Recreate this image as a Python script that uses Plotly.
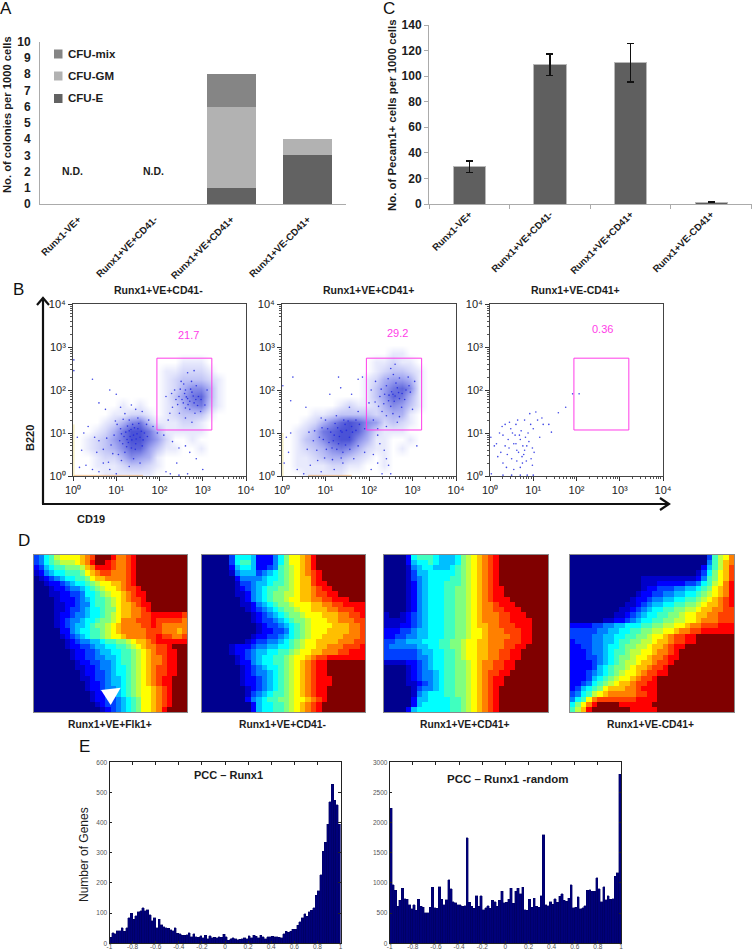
import plotly.graph_objects as go

W, H = 752, 952
FONT = "Liberation Sans"

# ---------- panel A / C ----------
CATEGORIES = ["Runx1-VE+", "Runx1+VE+CD41-", "Runx1+VE+CD41+", "Runx1+VE-CD41+"]
CFU_E = [0, 0, 1, 3]
CFU_GM = [0, 0, 5, 1]
CFU_MIX = [0, 0, 2, 0]
LEGEND_NAMES = ["CFU-mix", "CFU-GM", "CFU-E"]
PECAM = [29, 109, 110.5, 1.5]
PECAM_ERR = [4.5, 8.5, 15, 0]

# ---------- panel B : density (0-9), top row = high B220, 0.2 decade cells ----------
DENS_1 = [
"00000000000000000000","00000000000000000000","00000000000000000000",
"00000000000000000000","00000000000000000000","00000000000000000000",
"00000000000001110000","00000000000112221000","00000000000123332100","00000000000124664100",
"00000000000135784100","00000010100124673100","00000112210123331000","00001246731112210000",
"00012479974111110000","00123579975200100000","00123468853110010000","00012246541000000000",
"00011123321000000000","00001111110000000000"]
DENS_2 = [
"00000000000000000000","00000000000000000000","00000000000000000000",
"00000000000000000000","00000000000000000000",
"00000000000001100000","00000000000112110000","00000000000123321000","00000000001245541000",
"00000000001357861000","00000000001358741000","00000001211246531000","00001123333234410000",
"00012468986523210000","00124789985211100000","00134689964110010000","00123467642110100000",
"00112344321010000000","00111122110010000000","00011111000000000000"]
DOTS_1 = [(0.45,2.25),(0.02,2.7),(0.02,2.45),(0.85,2.0),(1.0,1.9),(0.6,1.7),(0.75,1.55),(1.1,1.6),(1.2,1.45),
(1.35,1.65),(1.45,1.55),(1.6,1.5),(1.75,1.3),(1.85,1.15),(1.95,1.0),(2.1,0.95),(2.3,0.8),(2.45,0.65),(2.6,0.7),
(2.7,0.55),(2.85,0.4),(2.4,0.3),(2.15,0.1),(2.25,0.05),(2.45,0.02),(2.65,0.05),(3.0,0.15),(0.2,0.6),(0.1,0.9),
(0.25,1.0),(0.35,1.15),(0.5,0.9),(0.55,0.55),(0.3,0.25),(0.15,0.2),(0.45,0.15),(0.6,0.1),(0.7,0.3),(0.85,0.15),
(1.0,0.05),(1.3,1.05),(1.4,0.95),(1.25,0.85),(1.5,1.1),(1.15,0.75),(1.55,0.9),(1.35,0.65),(1.1,1.1),(1.65,1.0),
(1.45,0.75),(1.2,0.55),(1.6,0.7),(0.95,0.95),(1.05,0.5),(1.3,1.3),(1.5,1.35),(1.7,1.2),(1.4,0.4),(1.55,0.3),
(2.65,1.8),(2.75,1.95),(2.55,1.7),(2.8,1.7),(2.6,2.0),(2.9,1.85),(2.45,1.85),(2.7,1.55),(2.85,2.1),(2.3,1.6),
(2.5,2.2),(2.95,1.5),(2.35,2.0),(2.6,1.35),(2.2,1.3),(2.75,1.25),(2.15,1.85),(3.05,1.65),(3.1,2.0),(2.65,2.4),(2.8,2.45),
(1.22,1.02),(1.32,0.92),(1.42,1.12),(1.28,0.78),(1.38,1.2),(1.48,0.98),(1.18,0.92),(1.52,1.22),(1.12,0.98),(1.36,0.84),
(1.26,1.16),(1.46,0.86),(1.08,0.82),(1.58,1.04),(1.34,1.08),(1.24,0.68),(1.44,0.62),(1.02,1.2),(0.88,0.72),(0.78,0.88),
(0.92,0.52),(0.98,1.28),(1.16,1.32),(1.62,0.84),(1.72,0.92),(0.7,0.62),(0.6,0.82),(1.12,0.36),(1.3,0.22),(0.82,0.32),
(2.62,1.84),(2.7,1.74),(2.58,1.92),(2.78,1.86),(2.66,1.66),(2.52,1.78),(2.84,1.78),(2.72,2.02),(2.6,1.58),(2.42,1.66),
(2.88,1.64),(2.48,2.02),(2.38,1.78),(2.96,1.78),(2.56,2.14),(2.74,2.2),(2.46,1.46),(2.82,1.46),(2.28,1.92),(2.24,1.46)]
DOTS_2 = [(0.25,2.3),(0.02,2.1),(0.2,1.75),(0.55,1.6),(0.9,1.35),(1.1,1.9),(1.3,2.3),(1.35,2.05),(1.6,1.9),(1.75,2.25),
(1.85,2.3),(2.0,1.7),(1.75,1.5),(1.55,1.6),(1.9,1.1),(2.2,0.95),(2.25,0.75),(2.35,0.6),(2.4,0.4),(2.2,0.3),
(2.45,0.25),(2.5,0.05),(3.1,0.7),(2.1,0.5),(2.05,0.15),(2.3,0.05),(0.1,0.9),(0.15,0.55),(0.2,1.0),(0.05,0.3),
(0.35,0.15),(0.5,0.05),(0.65,0.25),(0.9,0.1),(1.2,0.15),(1.4,0.3),(1.65,0.4),(1.75,0.7),(1.9,0.55),(1.35,1.05),
(1.2,0.95),(1.45,1.2),(1.55,0.9),(1.05,1.1),(1.3,0.75),(1.15,0.65),(1.6,1.15),(0.95,0.85),(1.7,1.3),(1.4,0.55),
(0.8,0.6),(0.75,1.05),(1.0,1.3),(1.25,1.4),(2.55,1.9),(2.65,2.05),(2.45,1.75),(2.7,1.8),(2.85,2.0),(2.4,2.1),
(2.3,1.5),(2.55,1.45),(2.75,1.6),(2.95,1.95),(2.25,1.85),(2.15,2.2),(2.1,1.3),(2.5,2.5),(2.6,2.6),(3.0,1.55),
(2.4,1.15),(2.2,1.1),(3.05,2.2),(2.65,1.25),(2.05,2.0),(2.9,2.3),
(1.28,1.12),(1.38,1.02),(1.22,1.22),(1.48,1.06),(1.18,0.82),(1.32,0.92),(1.42,1.3),(1.12,1.02),(1.52,1.28),(1.26,0.62),
(1.08,0.78),(1.62,1.02),(1.46,0.72),(1.02,0.62),(0.92,1.12),(0.86,0.9),(0.72,0.82),(0.62,1.02),(1.36,0.42),(1.16,0.38),
(0.98,0.42),(0.82,0.36),(0.58,0.62),(1.56,0.62),(1.7,1.06),(1.78,1.2),
(2.52,1.96),(2.6,1.86),(2.46,1.88),(2.68,1.94),(2.58,1.74),(2.36,1.9),(2.76,1.92),(2.62,2.16),(2.5,1.62),(2.34,1.68),
(2.82,1.78),(2.44,2.26),(2.28,2.02),(2.92,2.1),(2.7,2.28),(2.4,1.4),(2.22,1.62),(2.14,1.72),(2.56,2.36),(2.7,1.38)]
DOTS_3 = [(1.91,1.91),(2.06,1.91),(1.75,1.6),(1.58,1.47),(1.42,1.02),(1.36,1.2),(1.23,1.2),(1.06,1.49),(0.92,1.45),
(0.80,1.3),(0.45,1.25),(0.48,1.1),(0.30,0.95),(0.35,0.7),(0.40,0.5),(0.55,0.75),(0.60,1.2),(0.62,0.6),(0.70,0.85),
(0.75,0.3),(0.78,0.5),(0.85,0.7),(0.88,1.0),(0.95,0.4),(0.98,0.25),(1.00,1.1),(1.02,0.55),(0.15,0.75),(0.18,0.45),
(0.22,1.0),(0.25,0.55),(0.30,0.3),(0.35,1.2),(0.38,0.2),(0.42,0.85),(0.50,0.4),(0.55,0.15),(0.58,0.95),(0.62,0.35),
(0.66,0.55),(0.70,0.2),(0.72,1.05),(0.76,0.7),(0.80,0.6),(0.84,0.35),(0.90,0.8),(0.94,1.2),(0.44,0.65),(0.52,1.0),
(0.60,0.75),(0.68,0.95),(0.74,0.45),(0.82,0.9),(0.02,0.9),(0.03,0.05),(0.10,0.7),(0.28,1.15),(0.50,0.02),(0.70,0.02),
(0.86,0.02),(1.00,0.02),(0.30,0.02),(1.20,1.35),(1.10,1.3),(1.15,0.9),(0.98,0.65),(0.64,1.3)]
EDGE_BOTTOM = [[0.02, 1.62], [0.6, 1.6], [0.0, 0.0]]
EDGE_LEFT_TOP = [1.2, 1.0, 0.0]
GATE_X = [1.94, 3.21]
GATE_Y = [1.07, 2.74]
LOG_TICKS = [0, 1, 2, 3, 4]
LOG_LABELS = ["10\u2070", "10\u00b9", "10\u00b2", "10\u00b3", "10\u2074"]
LOG_MINOR = [0.30,0.48,0.60,0.70,0.78,0.85,0.90,0.95,1.30,1.48,1.60,1.70,1.78,1.85,1.90,1.95,
             2.30,2.48,2.60,2.70,2.78,2.85,2.90,2.95,3.30,3.48,3.60,3.70,3.78,3.85,3.90,3.95]
PCT = ["21.7", "29.2", "0.36"]
PCT_X = [2.67, 2.65, 2.6]
PCT_Y = [3.29, 3.33, 3.42]
FLOW_TITLES = ["Runx1+VE+CD41-", "Runx1+VE+CD41+", "Runx1+VE-CD41+"]

# ---------- panel D : colour level per cell, 0=dark blue ... F=dark red (short rows continue in F) ----------
HEAT_1 = ["34679AAAABCDFFFECCDE","34678999ABCEFFEDCCDE","2356778889BCEEEDCCDE","1245667778ABCDDCCCDE",
"01234566778ABBCCCCDE","0012234566789AABBCDE","00012234456789AABCDDE","000112233466789AABCDEE",
"0000122234567789ABCDDE","0000112234467789ABBCDEE","0000112334566788ABBCCDE",
"0000122344566789ABBCCDDEEEEEED","0000123445667889ACCCDDDEDDDDDC","000012345567889ABCCCCDDEDCCCCC",
"000002245667789ABCCCCCDDDCCCBC","000001234567789AABCCCCDDEDDCCD","0000001234455677889ABBCDEEEEEE",
"00000012233455667789ABCCDDEF","000000012233455667789ABCDDEEFF","000000012233445567789ABCCDEEFF",
"000000001223344567789ABCCDEEFF","000000001122344566789ABCDDEEFF","000000000122334566789ABCDDEEFF",
"000000000112334556789ABCDEEF","000000000012234556789ABCDEEF","000000000012234456789AABCDEF",
"000000000001223456789AABCDEF","000000000001223345678AABCDEF","000000000000123345678AABCDEF",
"000000000000012345678AABCEF"]
HEAT_2 = ["0000036665222468AABCE","0000036775222468AABCE","00000256652234789ABCE","00000145553456789ABCDE",
"00000024444566789ABBDE","00000013345567789ABBDEE","00000012345677889ABBCDEE","00000011245678899ABBCDDEE",
"0000000124567889AABBCCDDEEE","00000001124567889AAABBCCDDEEEE","000000001234567889AABBBCCDDDEE",
"0000000001234567889AAABBBCCDDE","00000000012334567889AAABBCCCDD","00000000001233456789AAAABBBCCD",
"00000000001223346789AAABBBBCCD","00000000012233456789AABBBBCCCD","0000000012334456789AABBBBCCCDD",
"0000012223445566789AABBCCCDDDE","000001223455667789AABBCCCDDEEE","00000012345667789AABCDDEEEEEEE",
"00000012245667789ABCDEE","00000001234566789ABCDEE","00000001234456789ABCDEE","00000001223456789ABCDEEE",
"00000001223456789ABCDEEE","00000000123456789ABCDEE","00000000134567789ABCDEE","00000000245677889AABCDE",
"00000000025667789ABCDE","00000000025667789ABCDE"]
HEAT_3 = ["0000267776555689ABCDE","0000256676555689ABCDE","0000145665556789ABCDE","0000135566666789ABCDE",
"0000134566667789ABCDE","0000124566677789ABCDE","0000124566677889ABCDEE","0000124566677889ABCDEE",
"0000124566677889ABCDEEE","0000124566677889ABCCDEEE","0000124566677889ABCCDDEEE","1001234566677889ABCCCDDEEE",
"1111234566677889ABCCCDDEEEE","1112234566677889ABBCCDDDEEE","2223345566677889AABCCCDDDEE","2233445566677889AABCCCCDDEE",
"334455566677889AABBCCCDDDEE","344444556677889AABBCCCDDEE","333333455667789AABBCCDDEE","333333445667789AABBCCDDEE",
"1111223456677889ABCCDDEE","0000123456677889ABCCDDEE","0000123445677889ABCDDEE","0000123445677889ABCDEE",
"0000112345677889ABCDEE","0000013445677889ABCDE","0000014566677889ABCDE","0000025566667789ABCDE",
"0000025666667789ABCDE","0000256666667789ABCDE"]
HEAT_4 = ["0000000000000000000000000379AC","0000000000000000000000000479BC","0000000000000000000000002579BD",
"000000000000000000000001368ABD","000000000000011111111112478ABD",
"000000000000011122222334679ACE","00000000000001223334455678ABCE","00000000000012233445566789ABCE",
"0000000000012234455667789ABCDE","000000000011234556677889ABBCDE","00000000011234566778899ABBCCDD",
"000000001123456677889AABBCCDDD","000000112234566778899AABCCCDDD","2222334455666778899AABCCDDDEEE",
"33333445566778899AABCCDDEEEEEE","333344556677889AABCDDEEF","233344556778899ABBCDDEE","223344566788 99ABBCDEE".replace(" ",""),
"2223445677899AABCCDE","222334567889AABCCDEE","222234567899ABBCDDE","22223567889ABBCDDE","2223456789AABCDDEE",
"222356789AABCDDE","22346789ABBCDDEE","235678ABBBCCDEEE","34679ABCCCCCDDEE","467ACDDDDDDDEEEE","68ACEFFFFEEEEEE","79BEFFFFFFFEEEEE"]
HEAT_LABELS = ["Runx1+VE+Flk1+", "Runx1+VE+CD41-", "Runx1+VE+CD41+", "Runx1+VE-CD41+"]

# ---------- panel E : histogram counts, 100 bins between -1 and 1 ----------
HIST_1 = [20,35,32,42,42,52,40,52,85,100, 80,92,105,108,118,108,112,95,75,85, 52,80,62,55,52,50,45,42,52,33,
          32,27,27,28,35,22,32,22,20,25, 18,26,15,25,18,20,18,22,20,30, 22,10,15,18,15,12,13,15,18,15,
          25,18,26,24,18,26,22,15,22,22, 24,22,22,20,18,32,40,36,40,47, 46,60,72,85,98,90,105,110,118,160,
          175,228,305,335,395,470,527,475,460,395]
HIST_2 = [2240,970,880,610,710,915,740,730,640,570, 640,550,730,610,600,510,510,600,925,590,
          580,940,730,640,725,1050,900,690,670,640, 640,610,620,1750,680,610,580,790,610,790,
          560,590,620,580,710,690,610,710,860,670, 680,730,910,660,860,910,820,930,560,550,
          730,600,750,610,600,790,1800,640,620,690, 650,740,680,780,820,710,700,750,970,590,
          600,770,575,590,620,880,890,860,860,1090, 900,690,940,720,790,730,740,1110,1170,2800]
BIN_CENTRES = [round(-0.99 + 0.02 * i, 2) for i in range(100)]
HIST_XT = [-1, -0.8, -0.6, -0.4, -0.2, 0, 0.2, 0.4, 0.6, 0.8, 1]
HIST_XL = ["-1", "-0.8", "-0.6", "-0.4", "-0.2", "0", "0.2", "0.4", "0.6", "0.8", "1"]

JET = ["#00008f","#0000c8","#0000ff","#0040ff","#0080ff","#00bfff","#00ffff","#40ffbf",
       "#80ff80","#bfff40","#ffff00","#ffbf00","#ff8000","#ff4000","#ff0000","#800000"]
JET_SCALE = [[i / 15, c] for i, c in enumerate(JET)]
INK = "#1c1c1c"
GREY_AXIS = "#ababab"
MAGENTA = "#ff3ce8"


def dx(a, b):
    return [a / W, b / W]


def dy(a, b):
    return [1 - b / H, 1 - a / H]


def decode(rows):
    return [[int(c, 16) for c in r.ljust(30, "F")[:30]] for r in rows]


fig = go.Figure()
anns, shapes = [], []


def px_text(x, y, text, size=11, color=INK, angle=0, anchor="center"):
    anns.append(dict(x=x / W, y=1 - y / H, xref="paper", yref="paper", text=text, showarrow=False,
                     xanchor=anchor, yanchor="middle", textangle=angle,
                     font=dict(family=FONT, size=size, color=color)))


def px_path(points, **kw):
    p = "M" + "L".join(f"{x / W:.5f},{1 - y / H:.5f}" for x, y in points)
    shapes.append(dict(type="path", xref="paper", yref="paper", path=p, **kw))


# ---- A
for name, vals, col in [("CFU-E", CFU_E, "#626262"), ("CFU-GM", CFU_GM, "#b2b2b2"), ("CFU-mix", CFU_MIX, "#858585")]:
    fig.add_bar(x=CATEGORIES, y=vals, name=name, width=0.645, marker=dict(color=col, line=dict(width=0)),
                xaxis="x", yaxis="y", showlegend=False)
for name, col, y in zip(LEGEND_NAMES, ["#858585", "#b2b2b2", "#626262"], [54, 76, 98.5]):
    shapes.append(dict(type="rect", xref="paper", yref="paper", x0=54 / W, x1=62.5 / W, y0=1 - (y + 4.5) / H, y1=1 - (y - 4.5) / H,
                       fillcolor=col, line=dict(width=0)))
    px_text(66, y, f"<b>{name}</b>", 11.5, anchor="left")
# ---- C
fig.add_bar(x=CATEGORIES, y=PECAM, width=0.40, marker=dict(color="#5f5f5f", line=dict(color="#b8b8b8", width=1)),
            error_y=dict(type="data", array=PECAM_ERR, color="#111111", thickness=1.5, width=3.5),
            xaxis="x2", yaxis="y2", showlegend=False)

cat_axis = dict(type="category", range=[-0.5, 3.5], categoryorder="array", categoryarray=CATEGORIES, tickangle=-45,
                showgrid=False, zeroline=False, showline=True, linecolor=GREY_AXIS, linewidth=1,
                tickprefix="<b>", ticksuffix="</b>",
                tickfont=dict(family=FONT, size=9.7, color=INK))
val_font = dict(family=FONT, size=12, color=INK)
lay = dict(
    xaxis=dict(domain=dx(40, 346), anchor="y", ticks="outside", ticklen=5, tickcolor="rgba(0,0,0,0)", **cat_axis),
    yaxis=dict(domain=dy(41.7, 204), anchor="x", range=[0, 10], dtick=1, ticks="outside", ticklen=6, tickcolor="rgba(0,0,0,0)",
               showgrid=False, zeroline=False, showline=True, linecolor=GREY_AXIS, tickfont=val_font,
               tickprefix="<b>", ticksuffix="</b>"),
    xaxis2=dict(domain=dx(429, 751.5), anchor="y2", ticks="outside", ticklen=4, tickcolor=GREY_AXIS, tickson="boundaries", **cat_axis),
    yaxis2=dict(domain=dy(25, 204), anchor="x2", range=[0, 140], dtick=20, ticks="outside", ticklen=4, tickcolor=GREY_AXIS,
                showgrid=False, zeroline=False, showline=True, linecolor=GREY_AXIS, tickfont=val_font,
                tickprefix="<b>", ticksuffix="</b>"),
)
px_text(7, 115, "<b>No. of colonies per 1000 cells</b>", 11.2, angle=-90)
px_text(392, 115, "<b>No. of Pecam1+ cells per 1000 cells</b>", 11.4, angle=-90)
px_text(72, 171, "<b>N.D.</b>", 10.5)
px_text(153, 171, "<b>N.D.</b>", 10.5)

# ---- B
FLOW_X = [(73, 246), (282, 456), (490, 663)]
for i, ((x0, x1), title, pct) in enumerate(zip(FLOW_X, FLOW_TITLES, PCT)):
    n = 3 + i
    xa, ya = f"xaxis{n}", f"yaxis{n}"
    dots = [DOTS_1, DOTS_2, DOTS_3][i]
    if i < 2:
        rows = [DENS_1, DENS_2][i]
        fig.add_heatmap(z=[[int(c) for c in r] for r in rows[::-1]],
                        x=[-0.05 + 0.2 * k for k in range(20)], y=[0.05 + 0.2 * k for k in range(20)],
                        zmin=0, zmax=9, zsmooth="best", showscale=False, hoverinfo="skip",
                        colorscale=[[0, "#ffffff"], [0.12, "#e6e8fc"], [0.5, "#a4a9f2"], [1, "#4a52d6"]],
                        xaxis=f"x{n}", yaxis=f"y{n}")
        fig.add_scatter(x=EDGE_BOTTOM[i], y=[0.015, 0.015], mode="lines", line=dict(color="#f0a050", width=1),
                        opacity=0.6, showlegend=False, hoverinfo="skip", xaxis=f"x{n}", yaxis=f"y{n}")
        fig.add_scatter(x=[0.02, 0.02], y=[0, EDGE_LEFT_TOP[i]], mode="lines", line=dict(color="#e8d870", width=1),
                        opacity=0.6, showlegend=False, hoverinfo="skip", xaxis=f"x{n}", yaxis=f"y{n}")
    fig.add_scatter(x=[p[0] for p in dots], y=[p[1] for p in dots], mode="markers",
                    marker=dict(size=1.6, color="#1f28e0", opacity=0.85), showlegend=False,
                    xaxis=f"x{n}", yaxis=f"y{n}")
    for axis_name, dom, anch in [(xa, dx(x0, x1), f"y{n}"), (ya, dy(304, 476), f"x{n}")]:
        lay[axis_name] = dict(domain=dom, anchor=anch, range=[0, 4], tickmode="array", tickvals=LOG_TICKS, ticktext=LOG_LABELS,
                              ticks="outside", ticklen=4, tickcolor="#333", showgrid=False, zeroline=False,
                              showline=True, mirror=True, linecolor="#444", linewidth=1,
                              minor=dict(tickmode="array", tickvals=LOG_MINOR, ticks="outside", ticklen=2, tickcolor="#555"),
                              tickfont=dict(family=FONT, size=11, color="#222"))
    shapes.append(dict(type="rect", xref=f"x{n}", yref=f"y{n}", x0=GATE_X[0], x1=GATE_X[1], y0=GATE_Y[0], y1=GATE_Y[1],
                       line=dict(color=MAGENTA, width=1), layer="above"))
    anns.append(dict(x=PCT_X[i], y=PCT_Y[i], xref=f"x{n}", yref=f"y{n}", text=pct, showarrow=False,
                     font=dict(family=FONT, size=11, color=MAGENTA)))
    px_text((x0 + x1) / 2 - 1, 290, f"<b>{title}</b>", 10.5)
px_text(30, 438, "<b>B220</b>", 11, angle=-90)
px_text(91, 519, "<b>CD19</b>", 11)
shapes.append(dict(type="line", xref="paper", yref="paper", x0=43 / W, x1=43 / W, y0=1 - 504 / H, y1=1 - 300 / H, line=dict(color="#111", width=2.2)))
shapes.append(dict(type="line", xref="paper", yref="paper", x0=42 / W, x1=668 / W, y0=1 - 504 / H, y1=1 - 504 / H, line=dict(color="#111", width=2.2)))
px_path([(37, 305), (43, 298), (49, 305)], line=dict(color="#111", width=2.2))
px_path([(660, 498), (669, 504), (660, 510)], line=dict(color="#111", width=2.2))

# ---- D
HEAT_X = [(34, 187), (202, 365), (384, 548), (570, 734)]
HEAT_CX = [110, 283, 465, 650]
for i, (rows, (x0, x1), lab, cx) in enumerate(zip([HEAT_1, HEAT_2, HEAT_3, HEAT_4], HEAT_X, HEAT_LABELS, HEAT_CX)):
    n = 6 + i
    fig.add_heatmap(z=decode(rows), zmin=0, zmax=15, colorscale=JET_SCALE, showscale=False,
                    xaxis=f"x{n}", yaxis=f"y{n}", hoverinfo="skip")
    lay[f"xaxis{n}"] = dict(domain=dx(x0, x1), anchor=f"y{n}", range=[-0.5, 29.5], showticklabels=False, ticks="",
                            showgrid=False, zeroline=False, showline=True, mirror=True, linecolor="#8a8a8a")
    lay[f"yaxis{n}"] = dict(domain=dy(554.5, 712), anchor=f"x{n}", range=[29.5, -0.5], showticklabels=False, ticks="",
                            showgrid=False, zeroline=False, showline=True, mirror=True, linecolor="#8a8a8a")
    px_text(cx, 724, f"<b>{lab}</b>", 10.3)
px_path([(101, 690), (120.7, 687.7), (110.7, 705), (101, 690)], fillcolor="#ffffff", line=dict(width=0), layer="above")

# ---- E
for i, (vals, (x0, x1), ymax, yd) in enumerate(zip([HIST_1, HIST_2], [(109.5, 340.5), (389.7, 621)], [600, 3000], [100, 500])):
    n = 10 + i
    fig.add_bar(x=BIN_CENTRES, y=vals, width=0.02, marker=dict(color="#00007a", line=dict(color="#00005a", width=0.4)),
                xaxis=f"x{n}", yaxis=f"y{n}", showlegend=False)
    tf = dict(family=FONT, size=6.5, color="#555555")
    lay[f"xaxis{n}"] = dict(domain=dx(x0, x1), anchor=f"y{n}", range=[-1, 1], tickmode="array", tickvals=HIST_XT, ticktext=HIST_XL,
                            ticks="inside", ticklen=2.5, tickcolor="#222", showgrid=False, zeroline=False,
                            showline=True, mirror="ticks", linecolor="#222", tickfont=tf, ticklabelstandoff=-3)
    lay[f"yaxis{n}"] = dict(domain=dy(762.3, 943.3), anchor=f"x{n}", range=[0, ymax], dtick=yd, tickformat="d",
                            ticks="inside", ticklen=2.5, tickcolor="#222", showgrid=False, zeroline=False,
                            showline=True, mirror="ticks", linecolor="#222", tickfont=tf)
px_text(228, 775, "<b>PCC \u2013 Runx1</b>", 11)
px_text(508, 779, "<b>PCC \u2013 Runx1 -random</b>", 11.5)
px_text(84, 855, "Number of Genes", 12, angle=-90)

# ---- panel letters
for letter, x, y in [("A", 6, 9), ("B", 18, 289), ("C", 389, 9), ("D", 24, 540), ("E", 84, 746)]:
    px_text(x, y, letter, 17, color="#111")

fig.update_layout(
    width=W, height=H, margin=dict(l=0, r=0, t=0, b=0, autoexpand=False), paper_bgcolor="white", plot_bgcolor="white",
    barmode="stack", annotations=anns, shapes=shapes, showlegend=False,
    font=dict(family=FONT, color=INK),
    **lay,
)

fig.write_html("out.html", config=dict(displayModeBar=False), post_script="document.body.style.margin='0';")
